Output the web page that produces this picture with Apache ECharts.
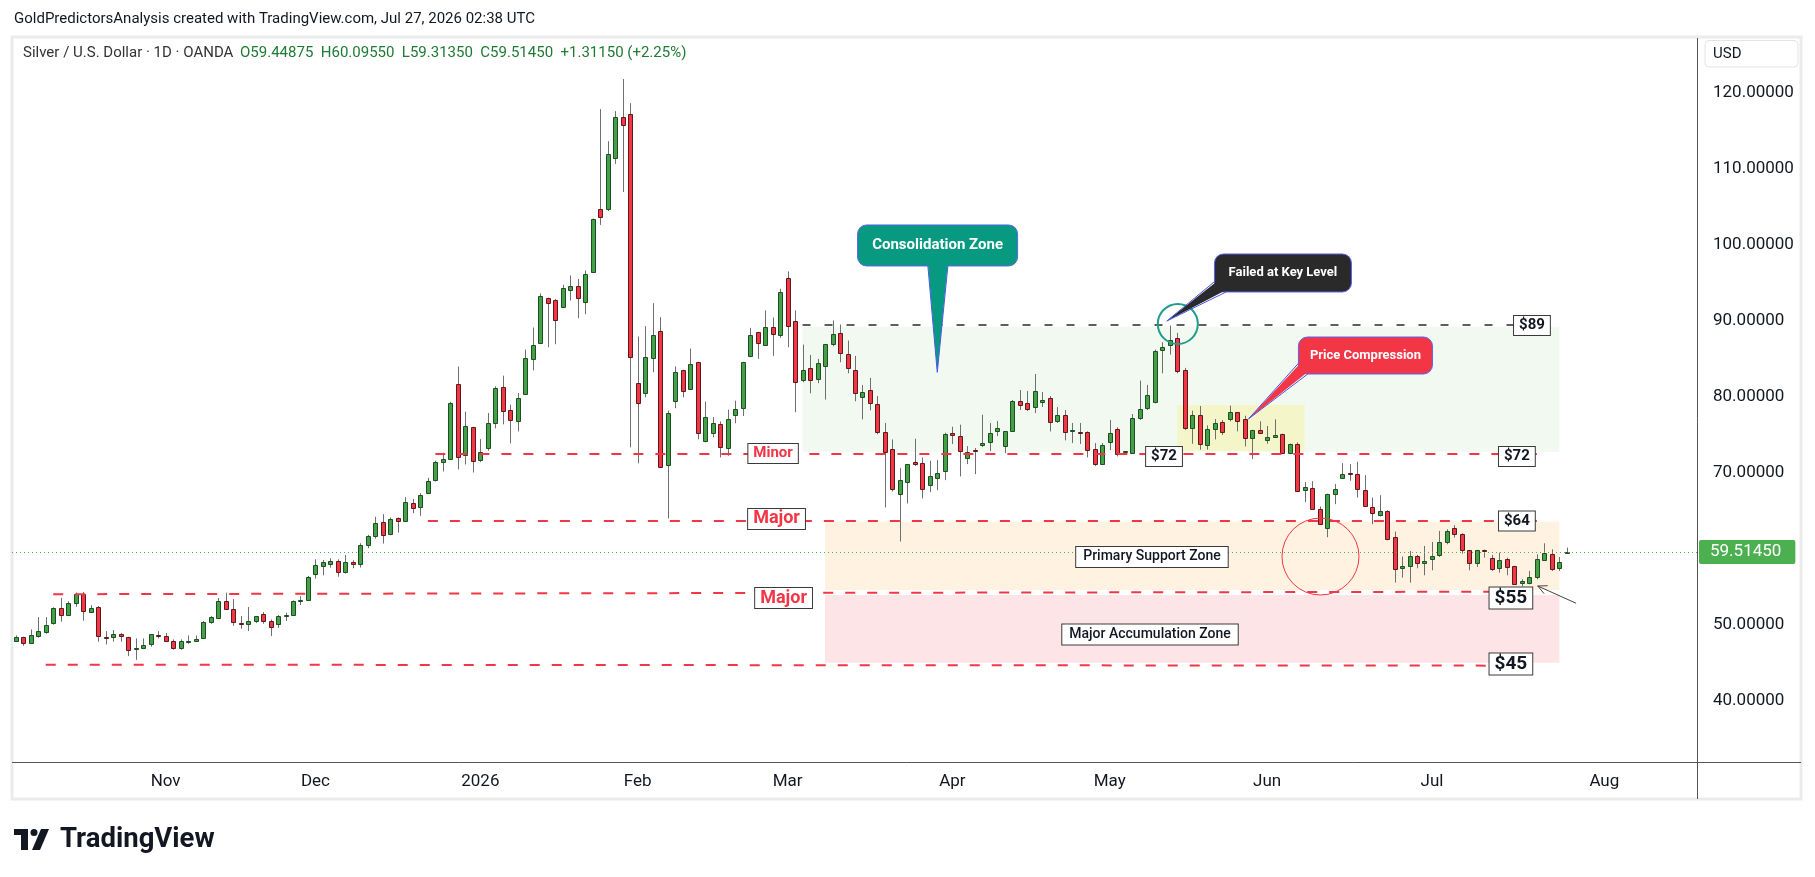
<!DOCTYPE html>
<html><head><meta charset="utf-8">
<script src="https://cdn.jsdelivr.net/npm/echarts@6/dist/echarts.min.js"></script>
<style>html,body{margin:0;padding:0;background:#fff}#c{width:1815px;height:877px}</style>
</head><body><div id="c"></div><script>
// ---- DATA (daily candles, Oct 6 2025 -> Jul 27 2026) ----
const opens = [47.76,48.28,47.49,48.37,49.03,50.08,52.10,51.14,52.76,53.95,51.58,52.24,48.30,48.24,48.68,48.28,46.79,46.79,47.36,48.60,
48.41,47.80,46.83,47.62,47.71,48.15,50.26,50.83,53.03,51.97,50.17,49.99,50.35,51.31,50.44,49.99,51.14,51.18,53.10,53.16,
56.59,57.64,57.97,58.30,56.85,58.17,57.91,60.37,61.56,63.44,61.86,63.97,63.57,65.95,65.42,67.27,68.94,71.35,71.75,81.63,
72.28,75.97,71.62,73.15,76.49,81.24,78.21,76.76,80.32,84.88,87.04,92.97,92.71,91.78,94.02,94.55,92.40,96.40,104.71,104.71,
111.43,116.70,117.10,81.77,80.54,85.16,88.67,70.96,79.36,83.49,80.98,84.54,74.13,75.18,76.37,73.16,77.56,78.44,85.33,88.45,
86.78,89.15,88.10,95.61,89.95,82.17,83.75,82.30,84.01,86.91,88.36,85.59,83.48,79.92,80.84,79.00,75.31,73.02,67.14,68.72,
71.35,71.22,68.32,69.25,70.17,75.18,74.78,71.88,72.94,73.60,74.00,75.44,73.46,75.44,79.39,79.13,78.60,79.26,79.79,76.76,
77.55,75.50,75.35,75.31,73.07,71.09,74.04,75.75,72.63,72.59,77.16,78.43,79.26,86.12,86.82,87.70,83.48,75.84,77.51,73.64,
75.62,76.59,76.98,77.90,76.98,74.52,75.58,74.26,74.65,75.05,72.50,73.73,67.67,67.93,65.16,62.66,67.14,69.24,69.86,69.77,
67.66,65.42,64.36,64.94,61.51,57.38,57.64,58.96,58.04,58.57,59.09,60.85,62.65,61.86,59.75,58.08,59.80,58.78,57.38,58.61,
57.69,55.40,55.40,56.15,58.57,59.31,57.38,59.45];
const highs = [48.55,48.37,49.34,50.96,50.96,52.24,53.47,53.03,54.17,54.26,52.54,52.41,49.12,49.25,48.85,48.37,48.15,48.15,48.68,49.12,
48.85,48.02,48.02,48.55,48.55,50.44,51.09,53.47,54.17,53.33,51.09,52.28,51.05,51.62,50.65,51.23,51.53,53.16,53.73,56.37,
58.56,58.48,58.70,58.56,59.14,58.43,60.68,61.77,64.15,64.50,64.06,64.06,66.74,66.52,67.27,69.29,71.53,72.58,79.30,83.92,
77.99,76.00,74.38,77.81,81.33,82.73,78.91,80.45,86.16,89.06,93.54,93.00,92.80,94.68,95.91,95.47,96.57,103.40,117.80,113.58,
117.54,121.76,118.59,87.88,89.24,92.27,90.43,78.13,83.93,83.50,86.30,84.55,79.31,77.29,76.72,78.26,79.44,84.55,89.02,88.50,
91.31,90.38,94.16,96.45,91.31,86.82,85.46,84.94,86.91,89.99,89.46,87.35,85.33,81.50,82.43,80.05,76.50,74.34,70.56,71.10,
74.43,71.97,71.53,71.62,75.22,76.01,76.28,73.46,73.20,77.59,76.50,76.76,75.45,79.53,80.84,80.71,82.95,80.58,80.05,78.60,
78.21,76.50,76.50,75.40,73.86,73.86,76.89,75.93,72.80,77.68,82.08,81.51,86.16,87.13,89.33,88.36,83.75,78.12,78.74,76.19,
77.02,76.89,78.78,77.95,77.46,75.60,76.72,76.10,76.98,75.10,73.80,73.95,68.72,68.85,65.51,67.20,68.46,71.22,71.09,71.39,
69.64,66.69,67.00,65.02,62.21,58.92,59.66,59.14,60.32,60.85,62.30,62.52,63.05,61.99,59.80,59.80,59.85,59.14,59.44,58.78,
57.70,55.93,57.03,59.22,60.67,59.88,58.87,60.10];
const lows = [47.71,47.18,47.49,48.24,48.77,49.95,50.35,51.14,52.32,50.48,51.58,47.71,47.36,47.71,47.71,45.82,45.34,46.79,47.05,48.15,
47.76,46.66,46.66,47.45,47.71,48.15,50.08,50.74,51.97,49.82,49.42,49.12,50.17,50.08,48.46,49.55,50.44,51.18,52.54,53.16,
56.02,56.46,57.47,56.28,56.68,57.38,57.47,60.02,61.29,60.63,61.73,62.08,63.57,64.63,64.28,67.27,68.80,70.12,71.75,70.39,
71.04,69.99,71.35,72.85,75.79,76.32,73.81,75.39,80.32,83.43,87.04,86.47,86.86,91.78,92.62,90.29,90.82,96.40,102.56,104.40,
110.60,106.90,73.29,71.19,79.88,83.18,70.66,63.93,78.44,79.88,80.98,74.35,73.95,74.61,71.97,72.19,76.46,77.42,85.16,84.94,
86.65,85.33,87.70,86.47,77.91,81.86,80.41,81.73,79.58,86.60,84.49,83.04,79.35,76.98,78.17,75.00,65.38,67.49,60.90,65.91,
70.83,66.57,67.40,67.66,68.98,73.73,69.47,71.09,69.77,73.33,72.80,74.78,72.54,75.31,78.21,78.08,77.81,78.60,75.39,76.50,
74.21,73.86,73.73,71.97,70.83,71.09,72.94,72.10,72.40,72.59,76.89,78.21,79.09,83.04,85.50,83.04,75.57,73.77,72.98,72.98,
74.34,74.92,76.72,75.40,73.42,71.75,75.14,73.77,74.52,72.50,72.40,67.50,66.08,65.10,63.10,61.47,65.82,69.20,68.89,66.69,
65.50,63.18,64.19,61.07,55.49,56.15,55.49,57.38,56.46,57.12,58.87,60.54,61.42,59.31,57.12,57.56,58.78,57.03,56.81,56.46,
55.18,55.00,55.27,55.93,58.57,57.03,57.03,59.31];
const closes = [48.28,47.45,48.55,49.07,49.96,52.10,51.14,52.76,53.95,51.71,52.10,48.41,48.26,48.68,48.37,46.57,46.88,47.23,48.68,48.50,
47.76,46.83,47.80,47.80,48.02,50.30,50.92,53.03,51.97,50.26,50.00,50.39,51.05,50.39,49.69,51.05,51.23,53.03,53.16,56.23,
57.80,58.17,58.30,56.85,58.17,57.86,60.41,61.60,63.31,61.73,63.84,63.57,66.08,65.29,67.00,68.85,71.35,71.75,79.17,71.97,
76.10,71.48,72.67,76.49,81.11,78.07,76.89,79.79,85.06,86.77,93.23,92.27,90.03,94.29,94.55,92.97,96.13,103.39,103.65,111.96,
116.83,115.65,85.07,79.14,85.24,88.14,70.79,77.82,83.22,80.72,84.28,75.18,77.29,76.50,73.29,77.03,78.35,84.54,88.10,87.05,
89.15,88.23,93.77,89.29,81.90,83.49,82.17,84.41,86.91,88.23,85.72,83.74,80.45,80.58,79.13,75.31,72.67,67.75,68.98,71.09,
71.09,67.80,69.51,69.91,75.04,74.91,72.80,72.67,72.80,73.86,75.18,75.84,75.44,79.39,78.87,78.34,80.71,79.53,76.63,77.55,
75.31,75.53,75.31,72.94,71.09,73.60,75.18,72.50,72.75,77.20,78.34,80.19,86.03,86.47,87.44,83.31,75.84,77.51,73.64,75.71,
76.45,75.31,77.90,76.72,74.52,75.58,75.14,74.65,74.92,72.50,73.73,67.53,68.06,65.16,63.18,67.14,67.80,69.77,69.80,67.84,
65.55,64.63,64.94,61.29,57.25,57.69,58.96,58.04,58.35,58.96,60.85,62.30,61.86,59.75,58.08,59.75,59.78,57.38,58.43,57.56,
55.27,55.66,56.24,58.57,59.44,57.38,58.20,59.51];
const holidays = ['2025-12-25','2026-01-01','2026-04-03'];
const priceTicks = [40,50,70,80,90,100,110,120];
const monthNames = ['2026','Feb','Mar','Apr','May','Jun','Jul','Aug','Sep','Oct','Nov','Dec'];
const lastPrice = 59.5145;
const headerText = 'GoldPredictorsAnalysis created with TradingView.com, Jul 27, 2026 02:38 UTC';
const symbolText = 'Silver / U.S. Dollar · 1D · OANDA';
const ohlcText = 'O59.44875  H60.09550  L59.31350  C59.51450  +1.31150 (+2.25%)';
// annotation levels (price)
const levelTop = 89.39, levelMinor = 72.5, levelMajor1 = 63.64, level55 = [53.97, 54.30], level45 = [44.70, 44.57];
const consolidationZone = [89.17, 72.72], supportZone = [63.51, 54.53], accumZone = [53.87, 44.96], compressionZone = [78.87, 72.82];

// ---- categories ----
function buildDays(){
  const out=[]; let t=Date.UTC(2025,9,6); const end=Date.UTC(2026,6,27);
  while(t<=end){const d=new Date(t);const wd=d.getUTCDay();const s=d.toISOString().slice(0,10);
    if(wd!==0&&wd!==6&&!holidays.includes(s))out.push(s);t+=86400000;}
  let extra=0; t=end+86400000;
  while(extra<17){const d=new Date(t);const wd=d.getUTCDay();if(wd!==0&&wd!==6){out.push(d.toISOString().slice(0,10));extra++;}t+=86400000;}
  return out;
}
const days = buildDays();
const showIdx = new Set();
for(let i=1;i<days.length;i++){ if(days[i].slice(5,7)!==days[i-1].slice(5,7)) showIdx.add(i); }
const candles = opens.map((o,i)=>[i,o,closes[i],lows[i],highs[i]]);

const RED='#f23645', FONT='Roboto, "Noto Sans", sans-serif';
const chart = echarts.init(document.getElementById('c'), null, {renderer:'canvas'});

function renderCandle(params, api){
  const i=api.value(0),o=api.value(1),c=api.value(2),l=api.value(3),h=api.value(4);
  const pO=api.coord([i,o]),pC=api.coord([i,c]),pL=api.coord([i,l]),pH=api.coord([i,h]);
  const rx=Math.round(pO[0]);
  const up=c>=o;
  const top=Math.min(pO[1],pC[1]); const bh=Math.max(Math.abs(pO[1]-pC[1]),1);
  return {type:'group',children:[
    {type:'line',shape:{x1:rx+0.5,y1:pH[1],x2:rx+0.5,y2:pL[1]},style:{stroke:'#6f6f6f',lineWidth:1}},
    {type:'rect',shape:{x:rx-1.5,y:Math.round(top)+0.5,width:4,height:Math.max(Math.round(bh),1)},
     style:{fill:up?'#43a047':'#f23645',stroke:up?'#1d4f23':'#5e1a1a',lineWidth:1}}
  ]};
}

const dashRed={color:RED,width:2,type:[10,12]};
chart.setOption({
  animation:false,
  backgroundColor:'#fff',
  grid:{left:12,right:117,top:38,bottom:115,containLabel:false},
  xAxis:{type:'category',data:days,boundaryGap:true,
    axisLine:{show:false},axisTick:{show:false},splitLine:{show:false},
    axisLabel:{interval:(idx)=>showIdx.has(idx),margin:11,fontSize:17,color:'#131722',fontFamily:FONT,
      formatter:(v)=>monthNames[(parseInt(v.slice(5,7),10)+11)%12]}},
  yAxis:{type:'value',position:'right',min:31.89,max:127.16,scale:true,
    axisLine:{show:false},axisTick:{show:false},splitLine:{show:false},
    axisLabel:{customValues:priceTicks,margin:15,fontSize:17,color:'#131722',fontFamily:FONT,formatter:(v)=>v.toFixed(5)}},
  series:[
    {type:'custom',name:'XAGUSD',renderItem:renderCandle,data:candles,encode:{x:0,y:[1,2,3,4]},clip:true,z:3,
     markArea:{silent:true,data:[
       [{coord:[105,consolidationZone[0]],itemStyle:{color:'rgba(76,175,80,0.08)'}},{coord:[206,consolidationZone[1]]}],
       [{coord:[108,supportZone[0]],itemStyle:{color:'rgba(255,152,0,0.12)'}},{coord:[206,supportZone[1]]}],
       [{coord:[108,accumZone[0]],itemStyle:{color:'rgba(242,54,69,0.13)'}},{coord:[206,accumZone[1]]}],
       [{coord:[155,compressionZone[0]],itemStyle:{color:'rgba(255,235,59,0.22)'}},{coord:[172,compressionZone[1]]}]
     ]},
     markLine:{silent:true,symbol:'none',data:[
       [{coord:[105,levelTop],lineStyle:{color:'#2a2a2a',width:1.5,type:[8,14]}},{coord:[200,levelTop]}],
       [{coord:[56,levelMinor],lineStyle:dashRed},{coord:[203,levelMinor]}],
       [{coord:[55,levelMajor1],lineStyle:dashRed},{coord:[203,levelMajor1]}],
       [{coord:[5,level55[0]],lineStyle:dashRed},{coord:[198,level55[1]]}],
       [{coord:[4,level45[0]],lineStyle:dashRed},{coord:[198,level45[1]]}],
       {yAxis:lastPrice,lineStyle:{color:'#4caf50',width:1,type:[1,3]},
        label:{show:true,position:'end',distance:1,formatter:lastPrice.toFixed(5),color:'#fff',backgroundColor:'#4caf50',
          fontSize:17,fontFamily:FONT,padding:[4,14,3,11],borderRadius:2}}
     ],label:{show:false}}
    }
  ]
});

function px(idx,price){
  const i0=Math.floor(idx),f=idx-i0;
  const a=chart.convertToPixel({gridIndex:0},[i0,price]);
  const b=chart.convertToPixel({gridIndex:0},[i0+1,price]);
  return [a[0]+(b[0]-a[0])*f,a[1]];
}
function tbox(idx,price,text,o){
  const p=px(idx,price);
  return {type:'text',x:p[0],y:p[1],z:20,style:{text:text,align:'center',verticalAlign:'middle',
    fontSize:o.size,fontWeight:o.weight||'bold',fontFamily:FONT,fill:o.color||'#131722',
    backgroundColor:'#fff',borderColor:'#3a3a3a',borderWidth:1,padding:o.pad}};
}
function callout(c){
  const cp=px(c.box[0],c.box[1]); const tp=px(c.tip[0],c.tip[1]);
  const x0=cp[0]-c.w/2,y0=cp[1]-c.h/2;
  const b1=[x0+c.b1[0],y0+c.b1[1]],b2=[x0+c.b2[0],y0+c.b2[1]];
  const i1=[x0+c.i1[0],y0+c.i1[1]],i2=[x0+c.i2[0],y0+c.i2[1]];
  return [
    {type:'rect',z:20,shape:{x:x0,y:y0,width:c.w,height:c.h,r:9},style:{fill:c.fill,stroke:'#5a63f0',lineWidth:1}},
    {type:'polygon',z:21,shape:{points:[i1,tp,i2]},style:{fill:c.fill}},
    {type:'polyline',z:21,shape:{points:[b1,tp,b2]},style:{stroke:'#4a55e8',lineWidth:1,fill:null}},
    {type:'text',z:22,x:cp[0],y:cp[1],style:{text:c.text,align:'center',verticalAlign:'middle',fontSize:c.fs,fontWeight:'bold',fontFamily:FONT,fill:'#fff'}}
  ];
}
function build(){
  const g=[];
  // frame
  g.push({type:'rect',z:0,shape:{x:12,y:37,width:1789,height:762},style:{fill:null,stroke:'#ebebeb',lineWidth:3}});
  g.push({type:'line',z:5,shape:{x1:12,y1:762.5,x2:1801,y2:762.5},style:{stroke:'#555',lineWidth:1}});
  g.push({type:'line',z:5,shape:{x1:1697.5,y1:38,x2:1697.5,y2:799},style:{stroke:'#555',lineWidth:1}});
  g.push({type:'rect',z:5,shape:{x:1705,y:40.5,width:93,height:26.5,r:4},style:{fill:'#fff',stroke:'#e0e3eb',lineWidth:1}});
  g.push({type:'text',z:6,x:1713,y:54,style:{text:'USD',fontSize:15,fontFamily:FONT,fill:'#131722',verticalAlign:'middle'}});
  g.push({type:'text',z:6,x:14,y:19,style:{text:headerText,fontSize:15,fontFamily:FONT,fill:'#131722',verticalAlign:'middle'}});
  g.push({type:'text',z:6,x:23,y:53,style:{text:'{a|'+symbolText+'}  {b|'+ohlcText+'}',verticalAlign:'middle',
    rich:{a:{fontSize:15,fontFamily:FONT,fill:'#333'},b:{fontSize:15,fontFamily:FONT,fill:'#1e7b34'}}}});
  // TradingView logo
  g.push({type:'rect',z:6,shape:{x:14,y:829,width:14,height:6},style:{fill:'#131722'}});
  g.push({type:'rect',z:6,shape:{x:21,y:829,width:7,height:21},style:{fill:'#131722'}});
  g.push({type:'circle',z:6,shape:{cx:34,cy:832.5,r:3.5},style:{fill:'#131722'}});
  g.push({type:'polygon',z:6,shape:{points:[[41,829],[49,829],[40,850],[32,850]]},style:{fill:'#131722'}});
  g.push({type:'text',z:6,x:60,y:840,style:{text:'TradingView',fontSize:27.5,fontWeight:'bold',fontFamily:FONT,fill:'#131722',verticalAlign:'middle'}});
  // level labels
  g.push(tbox(101.07,72.49,'Minor',{size:15,color:RED,pad:[2,5]}));
  g.push(tbox(101.53,63.87,'Major',{size:18,color:RED,pad:[1,5]}));
  g.push(tbox(102.47,53.47,'Major',{size:18,color:RED,pad:[1,5]}));
  g.push(tbox(153.24,72.09,'$72',{size:15,pad:[2,5]}));
  g.push(tbox(202.34,89.33,'$89',{size:15,pad:[2,5]}));
  g.push(tbox(200.33,72.09,'$72',{size:15,pad:[2,5]}));
  g.push(tbox(200.33,63.61,'$64',{size:15,pad:[2,5]}));
  g.push(tbox(199.53,53.47,'$55',{size:19,pad:[1,5]}));
  g.push(tbox(199.53,44.79,'$45',{size:19,pad:[1,5]}));
  g.push(tbox(151.63,58.87,'Primary Support Zone',{size:14,weight:500,pad:[3,7]}));
  g.push(tbox(151.37,48.67,'Major Accumulation Zone',{size:14,weight:500,pad:[3,7]}));
  // circles
  const tc=px(155.08,89.53); g.push({type:'circle',z:19,shape:{cx:tc[0],cy:tc[1],r:20},style:{fill:null,stroke:'#1f9e8b',lineWidth:2}});
  const rc=px(174.12,58.93); g.push({type:'circle',z:19,shape:{cx:rc[0],cy:rc[1],r:38.5},style:{fill:null,stroke:RED,lineWidth:1}});
  // callouts
  callout({box:[123.02,99.86],tip:[122.98,83.17],w:160,h:41,b1:[70.3,41],b2:[90.3,41],i1:[70.3,38],i2:[90.3,38],fill:'#089981',text:'Consolidation Zone',fs:15}).forEach(e=>g.push(e));
  callout({box:[169.11,96.24],tip:[153.61,89.92],w:137,h:38,b1:[0,27.7],b2:[11.7,38],i1:[2,27.7],i2:[11.7,36],fill:'#2a2a2a',text:'Failed at Key Level',fs:13}).forEach(e=>g.push(e));
  callout({box:[180.12,85.38],tip:[164.51,77.03],w:134,h:37,b1:[0,26.3],b2:[9.3,37],i1:[2,26.3],i2:[9.3,35],fill:'#f23645',text:'Price Compression',fs:13}).forEach(e=>g.push(e));
  // arrow
  const a0=px(208.23,52.78),a1=px(203.11,55.05);
  const ang=Math.atan2(a0[1]-a1[1],a0[0]-a1[0]);
  const hl=10,hw=0.45;
  const h1=[a1[0]+hl*Math.cos(ang+hw),a1[1]+hl*Math.sin(ang+hw)],h2=[a1[0]+hl*Math.cos(ang-hw),a1[1]+hl*Math.sin(ang-hw)];
  g.push({type:'line',z:19,shape:{x1:a0[0],y1:a0[1],x2:a1[0],y2:a1[1]},style:{stroke:'#444',lineWidth:1}});
  g.push({type:'polyline',z:19,shape:{points:[h1,a1,h2]},style:{stroke:'#444',lineWidth:1,fill:null}});
  return g;
}
chart.setOption({graphic:build()});
</script></body></html>
